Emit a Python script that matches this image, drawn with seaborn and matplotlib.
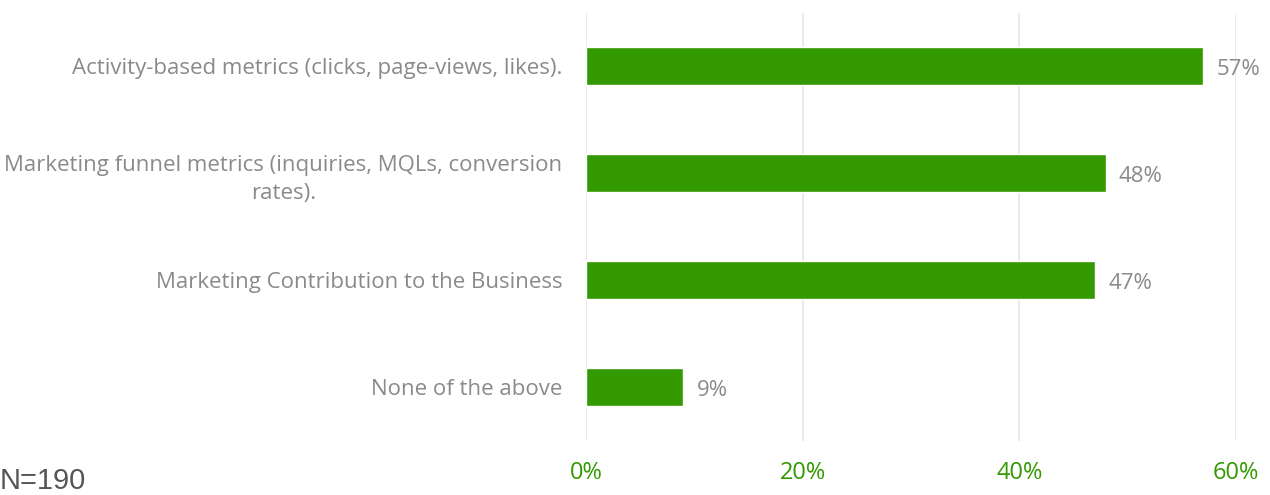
import matplotlib
matplotlib.use("Agg")
import matplotlib.pyplot as plt
import seaborn as sns
import pandas as pd

categories = [
    "Activity-based metrics (clicks, page-views, likes).",
    "Marketing funnel metrics (inquiries, MQLs, conversion\nrates).",
    "Marketing Contribution to the Business",
    "None of the above",
]
values = [57, 48, 47, 9]
x_ticks = [0, 20, 40, 60]
x_tick_labels = ["0%", "20%", "40%", "60%"]
sample_note = "N=190"

green = "#339900"
grey_text = "#8a8a8a"

sns.set_theme(style="white")
plt.rcParams["font.family"] = ["Open Sans", "DejaVu Sans"]

df = pd.DataFrame({"category": categories, "value": values})

fig = plt.figure(figsize=(12.7, 4.95), dpi=100)
ax = fig.add_axes([0.4614, 0.1101, 0.5118, 0.8646])

sns.barplot(data=df, x="value", y="category", orient="h", color=green,
            saturation=1, width=0.35, ax=ax, zorder=3)

ax.set_xlim(0, 60)
ax.set_ylim(3.5, -0.5)
ax.set_xticks(x_ticks)
ax.set_xticklabels(x_tick_labels, color=green, fontsize=17)
ax.tick_params(axis="y", labelsize=16, labelcolor=grey_text, length=0, pad=17)
ax.tick_params(axis="x", length=0, pad=15)
for lbl in ax.get_yticklabels():
    lbl.set_horizontalalignment("right")
    lbl.set_multialignment("center")
    lbl.set_linespacing(1.45)

ax.set_xlabel("")
ax.set_ylabel("")
ax.grid(axis="x", color="#e6e6e6", linewidth=1.2, zorder=0)
for s in ax.spines.values():
    s.set_visible(False)

for i, v in enumerate(values):
    ax.text(v + 1.2, i + 0.03, f"{v}%", va="center", ha="left",
            fontsize=16, color=grey_text)

fig.text(0.0, 0.012, sample_note, fontsize=21, color="#555555",
         ha="left", va="baseline", family=["Liberation Sans", "DejaVu Sans"])

fig.savefig("out.png", dpi=100)
